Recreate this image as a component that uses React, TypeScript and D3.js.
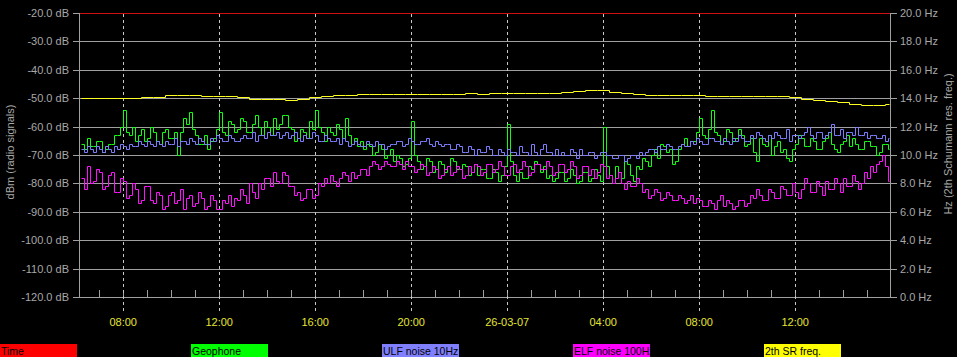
import React, { useEffect } from 'react';
import * as d3 from 'd3';

// ---- data (7.5-minute samples from 06:15 on 25-03-07), dB ----
const SAMPLE_START = 6.25;
const SAMPLE_STEP = 0.125;

const geophone = [
  -66, -68, -64, -67, -67, -65, -65, -69, -68, -66, -66, -63, -63, -60, -54, -62,
  -63, -60, -65, -63, -61, -65, -64, -60, -62, -65, -66, -62, -61, -64, -64, -62,
  -70, -62, -57, -59, -55, -61, -63, -66, -66, -63, -68, -65, -64, -61, -55, -62,
  -63, -58, -59, -62, -61, -57, -58, -62, -62, -59, -56, -60, -63, -58, -60, -63,
  -57, -61, -59, -56, -56, -60, -61, -65, -64, -61, -62, -64, -58, -61, -54, -60,
  -62, -65, -60, -62, -63, -59, -61, -64, -57, -63, -66, -64, -67, -65, -68, -66,
  -67, -70, -69, -66, -68, -71, -70, -68, -72, -70, -71, -74, -73, -71, -58, -70,
  -72, -75, -74, -71, -72, -76, -75, -72, -73, -76, -74, -71, -72, -75, -75, -73,
  -74, -77, -76, -73, -77, -75, -75, -78, -78, -75, -76, -79, -77, -74, -59, -72,
  -77, -79, -76, -78, -78, -74, -75, -72, -73, -76, -74, -78, -77, -79, -78, -76,
  -76, -79, -78, -75, -77, -80, -79, -76, -76, -79, -78, -75, -77, -79, -60, -74,
  -77, -80, -74, -76, -78, -72, -73, -77, -79, -74, -75, -71, -72, -74, -70, -68,
  -71, -66, -67, -69, -68, -73, -72, -68, -66, -64, -67, -65, -65, -62, -57, -63,
  -64, -61, -54, -62, -63, -66, -65, -61, -62, -65, -64, -61, -63, -67, -66, -64,
  -69, -72, -64, -66, -67, -63, -70, -67, -65, -69, -68, -71, -72, -68, -66, -63,
  -64, -67, -67, -64, -65, -68, -68, -65, -64, -62, -66, -68, -69, -66, -65, -63,
  -67, -64, -66, -68, -68, -65, -65, -67, -67, -70, -69, -66, -66, -68,
];

const ulfNoise = [
  -68, -69, -67, -68, -69, -67, -68, -69, -67, -68, -69, -67, -68, -66, -67, -68,
  -66, -67, -67, -65, -66, -67, -65, -66, -67, -65, -66, -67, -65, -66, -66, -64,
  -67, -65, -65, -66, -64, -65, -66, -64, -65, -66, -66, -64, -65, -63, -64, -65,
  -65, -63, -64, -65, -65, -64, -63, -64, -64, -62, -65, -63, -63, -64, -62, -63,
  -63, -62, -64, -63, -62, -64, -63, -62, -64, -65, -63, -64, -64, -62, -63, -65,
  -65, -63, -64, -65, -65, -64, -66, -64, -65, -67, -66, -65, -66, -67, -67, -65,
  -66, -67, -65, -66, -66, -68, -67, -66, -66, -65, -65, -67, -66, -64, -65, -66,
  -66, -65, -65, -64, -66, -67, -65, -66, -67, -66, -66, -68, -68, -66, -67, -69,
  -69, -67, -68, -70, -68, -69, -69, -67, -68, -70, -70, -68, -69, -70, -68, -69,
  -69, -70, -67, -69, -69, -70, -66, -69, -70, -68, -66, -69, -69, -70, -68, -70,
  -69, -70, -70, -68, -69, -71, -68, -70, -70, -69, -69, -71, -70, -69, -69, -70,
  -70, -71, -71, -70, -70, -72, -71, -70, -70, -71, -69, -70, -69, -68, -68, -69,
  -67, -68, -68, -66, -67, -68, -68, -67, -66, -67, -67, -65, -66, -64, -65, -66,
  -66, -64, -64, -65, -65, -66, -64, -65, -66, -64, -65, -63, -64, -65, -65, -63,
  -64, -62, -63, -64, -65, -63, -64, -62, -63, -64, -64, -61, -65, -63, -63, -64,
  -63, -62, -60, -63, -64, -62, -62, -64, -63, -62, -59, -63, -63, -61, -64, -62,
  -62, -63, -60, -63, -63, -62, -64, -63, -63, -64, -64, -63, -65, -64,
];

const elfNoise = [
  -78, -82, -74, -80, -79, -75, -76, -82, -81, -77, -76, -83, -83, -78, -79, -85,
  -84, -80, -82, -87, -86, -81, -81, -86, -87, -83, -84, -89, -88, -84, -83, -87,
  -86, -82, -89, -85, -84, -88, -87, -83, -85, -89, -88, -84, -86, -89, -89, -86,
  -87, -84, -88, -85, -86, -82, -84, -87, -80, -83, -85, -80, -82, -78, -78, -81,
  -76, -79, -80, -76, -77, -81, -81, -84, -83, -86, -85, -82, -82, -85, -84, -80,
  -81, -78, -80, -77, -79, -81, -78, -76, -77, -79, -76, -78, -77, -75, -75, -77,
  -74, -72, -73, -75, -74, -72, -73, -74, -74, -72, -73, -75, -72, -74, -74, -76,
  -75, -73, -74, -77, -76, -74, -75, -78, -77, -75, -74, -77, -76, -74, -75, -78,
  -77, -74, -76, -73, -74, -77, -76, -73, -73, -76, -75, -72, -74, -77, -77, -74,
  -73, -76, -75, -72, -74, -77, -76, -73, -73, -75, -75, -72, -74, -77, -76, -73,
  -73, -76, -75, -72, -74, -78, -77, -74, -74, -77, -75, -78, -76, -73, -74, -78,
  -77, -80, -78, -76, -80, -82, -79, -81, -81, -78, -80, -83, -82, -85, -84, -82,
  -83, -86, -85, -83, -84, -86, -86, -84, -85, -87, -86, -84, -87, -85, -86, -88,
  -88, -86, -87, -89, -86, -84, -88, -86, -87, -89, -88, -86, -86, -88, -87, -84,
  -85, -82, -84, -86, -86, -82, -83, -85, -85, -81, -82, -84, -84, -80, -83, -85,
  -82, -78, -80, -83, -83, -79, -81, -84, -79, -82, -82, -78, -80, -83, -78, -81,
  -81, -77, -79, -82, -80, -76, -78, -74, -76, -73, -72, -70, -74, -79,
];

// 2nd Schumann resonance frequency, 30-minute samples from 06:15, Hz
const SR_START = 6.25;
const SR_STEP = 0.5;
const srFreq = [
  14.0, 13.98, 14.0, 13.99, 14.03, 14.08, 14.1, 14.2, 14.22, 14.2, 14.14, 14.18,
  14.12, 14.05, 13.96, 13.94, 13.92, 13.87, 13.93, 14.1, 14.15, 14.2, 14.25, 14.28,
  14.3, 14.28, 14.3, 14.32, 14.3, 14.32, 14.3, 14.33, 14.35, 14.33, 14.36, 14.35,
  14.38, 14.4, 14.38, 14.4, 14.42, 14.5, 14.55, 14.58, 14.45, 14.35, 14.3, 14.25,
  14.22, 14.24, 14.22, 14.2, 14.18, 14.15, 14.17, 14.15, 14.17, 14.15, 14.13, 14.1,
  13.95, 13.88, 13.82, 13.75, 13.62, 13.55, 13.55, 13.6,
];

const timeTickHours = [8, 12, 16, 20, 24, 28, 32, 36];
const timeTickLabels = ['08:00', '12:00', '16:00', '20:00', '26-03-07', '04:00', '08:00', '12:00'];
const dbTicks = [-20, -30, -40, -50, -60, -70, -80, -90, -100, -110, -120];
const hzTicks = [20, 18, 16, 14, 12, 10, 8, 6, 4, 2, 0];
const legendNames = ['Time', 'Geophone', 'ULF noise 10Hz', 'ELF noise 100Hz', '2th SR freq.'];
const legendColors = ['#ff0000', '#00ff00', '#8080ff', '#ff00ff', '#ffff00'];

const W = 957;
const H = 357;
const FONT = '"Liberation Sans", Arial, sans-serif';

export default function App() {
  useEffect(() => {
    document.body.style.margin = '0';
    document.body.style.background = '#000';
  }, []);

  const x = d3.scaleLinear().domain([6.2, 39.95]).range([80, 890]);
  const yDb = d3.scaleLinear().domain([-120, -20]).range([297, 13]);
  const yHz = d3.scaleLinear().domain([0, 20]).range([297, 13]);
  const px = (v: number) => Math.round(v) + 0.5;

  const stepPath = (vals: number[], start: number, step: number, y: (v: number) => number) => {
    const pts = vals.map((v, i) => [start + i * step, v] as [number, number]);
    pts.push([Math.min(start + vals.length * step, 39.9), vals[vals.length - 1]]);
    return d3
      .line<[number, number]>()
      .x((d) => Math.round(x(d[0])) + 0.5)
      .y((d) => Math.round(y(d[1])) + 0.5)
      .curve(d3.curveStepAfter)(pts) as string;
  };

  const minorHours = d3.range(7, 40);
  const grid = '#a0a0a0';
  const label = '#a8a8a8';

  return (
    <svg
      width={W}
      height={H}
      style={{ position: 'fixed', left: 0, top: 0, background: '#000', display: 'block' }}
    >
      <rect x={0} y={0} width={W} height={H} fill="#000" />
      {/* horizontal grid */}
      {dbTicks.map((t) => (
        <g key={'db' + t}>
          <line x1={73} x2={897} y1={px(yDb(t))} y2={px(yDb(t))} stroke={grid} strokeWidth={1} />
          <text
            x={69}
            y={yDb(t) + 4}
            textAnchor="end"
            fill={label}
            fontFamily={FONT}
            fontSize={11}
          >
            {t.toFixed(1)} dB
          </text>
        </g>
      ))}
      {hzTicks.map((t) => (
        <text key={'hz' + t} x={900} y={yHz(t) + 4} fill={label} fontFamily={FONT} fontSize={11}>
          {t.toFixed(1)} Hz
        </text>
      ))}
      {/* axes */}
      <line x1={79.5} x2={79.5} y1={13} y2={297} stroke={grid} />
      <line x1={890.5} x2={890.5} y1={13} y2={297} stroke={grid} />
      {/* minor time ticks */}
      {minorHours.map((h) => (
        <line key={'mt' + h} x1={px(x(h))} x2={px(x(h))} y1={290} y2={297} stroke={grid} />
      ))}
      {/* dashed time grid + labels */}
      {timeTickHours.map((h, i) => (
        <g key={'tt' + h}>
          <line
            x1={px(x(h))}
            x2={px(x(h))}
            y1={14}
            y2={314}
            stroke="#c8c8c8"
            strokeDasharray="3,3"
          />
          <text
            x={x(h)}
            y={326}
            textAnchor="middle"
            fill="#e6e632"
            fontFamily={FONT}
            fontSize={11}
          >
            {timeTickLabels[i]}
          </text>
        </g>
      ))}
      {/* time line (red) */}
      <line x1={80} x2={890} y1={13.5} y2={13.5} stroke="#d01010" strokeWidth={1} />
      {/* series */}
      <path d={stepPath(geophone, SAMPLE_START, SAMPLE_STEP, yDb)} fill="none" stroke="#10ff10" strokeWidth={1} />
      <path d={stepPath(ulfNoise, SAMPLE_START, SAMPLE_STEP, yDb)} fill="none" stroke="#7c7cff" strokeWidth={1} />
      <path d={stepPath(elfNoise, SAMPLE_START, SAMPLE_STEP, yDb)} fill="none" stroke="#ff10ff" strokeWidth={1} />
      <path d={stepPath(srFreq, SR_START, SR_STEP, yHz)} fill="none" stroke="#ffff20" strokeWidth={1} />
      {/* axis titles */}
      <text
        transform="translate(14,152) rotate(-90)"
        textAnchor="middle"
        fill={label}
        fontFamily={FONT}
        fontSize={11}
      >
        dBm (radio signals)
      </text>
      <text
        transform="translate(952,144) rotate(-90)"
        textAnchor="middle"
        fill={label}
        fontFamily={FONT}
        fontSize={11}
      >
        Hz (2th Schumann res. freq.)
      </text>
      {/* legend */}
      <defs>
        {legendNames.map((n, i) => (
          <clipPath id={'lg' + i} key={'cp' + i}>
            <rect x={i * 191} y={343} width={77} height={14} />
          </clipPath>
        ))}
      </defs>
      {legendNames.map((n, i) => (
        <g key={'lg' + i} clipPath={`url(#lg${i})`}>
          <rect x={i * 191} y={344} width={77} height={13} fill={legendColors[i]} />
          <text x={i * 191 + 1} y={355} fill="#000" fontFamily={FONT} fontSize={10.5}>
            {n}
          </text>
        </g>
      ))}
    </svg>
  );
}
